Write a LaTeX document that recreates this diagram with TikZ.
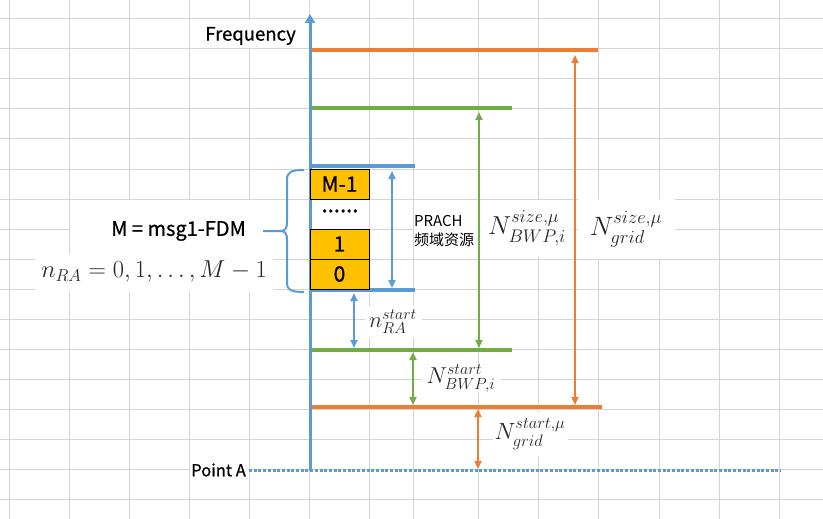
\RequirePackage{fix-cm}
\documentclass[tikz,border=0pt]{standalone}
\usepackage{amsmath}
\usepackage{fontspec}
\usepackage{tikz}
\usetikzlibrary{arrows.meta}

\newfontfamily\notosans{Noto Sans CJK SC}
\newfontfamily\notosansheavy[FakeBold=0.7]{Noto Sans CJK SC}
\newfontfamily\notosansdots[FakeBold=2]{Noto Sans CJK SC}

\definecolor{xlblue}{HTML}{5B9BD5}
\definecolor{xlorange}{HTML}{ED7D31}
\definecolor{xlgreen}{HTML}{70AD47}
\definecolor{xlgold}{HTML}{FFC000}
\definecolor{xlgrid}{HTML}{D4D4D4}

\tikzset{
  gridline/.style={xlgrid, line width=1pt},
  level/.style={line width=3.5pt},
  span/.style={line width=2pt, {Triangle[length=8pt,width=7pt]}-{Triangle[length=8pt,width=7pt]}},
  slot/.style={draw=black, line width=1pt, fill=xlgold, minimum width=59pt, minimum height=30pt,
    inner sep=0pt, font=\notosansheavy\fontsize{21}{21}\selectfont},
  mathlabel/.style={fill=white, inner sep=0pt, text=black!85},
  celltext/.style={font=\notosansheavy\fontsize{19}{19}\selectfont, inner sep=0pt}
}

\begin{document}
\begin{tikzpicture}[x=1pt,y=-1pt]
    \fill[white] (0,0) rectangle (823,519);
    \useasboundingbox (0,0) rectangle (823,519);

    % sheet grid
    \foreach \gx in {9,69,129,189,249,309,369,413,478,538,598,659,719,779}
      \draw[gridline] (\gx,0) -- (\gx,519);
    \foreach \gy in {19,49,...,499}
      \draw[gridline] (0,\gy) -- (823,\gy);
    \fill[white] (191,20) rectangle (308,48);
    \fill[white] (70,200) rectangle (308,258);
    \fill[white] (414,200) rectangle (477,258);
    \fill[white] (190,463) rectangle (248,476);

    % reference line
    \coordinate (pa) at (249,470);
    \coordinate (paend) at (781,470);
    \draw[xlblue, line width=3pt, dash pattern=on 3pt off 1.7pt] (pa) -- (paend);
    \node[celltext, anchor=east, font=\notosansheavy\fontsize{16.5}{16.5}\selectfont] (pointA) at (246,470) {Point A};

    % levels
    \coordinate (ohi) at (311,50);   \coordinate (ohiend) at (598,50);
    \coordinate (ghi) at (311,108);  \coordinate (ghiend) at (512,108);
    \coordinate (bhi) at (311,166);  \coordinate (bhiend) at (415,166);
    \coordinate (blo) at (311,290);  \coordinate (bloend) at (415,290);
    \coordinate (glo) at (311,350);  \coordinate (gloend) at (512,350);
    \coordinate (olo) at (311,407);  \coordinate (oloend) at (602,407);
    \draw[level, xlorange] (ohi) -- (ohiend);
    \draw[level, xlgreen] (ghi) -- (ghiend);
    \draw[level, xlblue] (bhi) -- (bhiend);
    \draw[level, xlblue] (blo) -- (bloend);
    \draw[level, xlgreen] (glo) -- (gloend);
    \draw[level, xlorange] (olo) -- (oloend);

    % axis
    \coordinate (origin) at (310,471);
    \coordinate (top) at (310,14);
    \draw[xlblue, line width=3pt, -{Triangle[length=9pt,width=10pt]}] (origin) -- (top);
    \node[celltext, anchor=east, font=\notosansheavy\fontsize{18.5}{18.5}\selectfont] (freq) at (296,36) {Frequency};

    % PRACH occasions
    \node[slot] (occM) at (339.5,184) {M-1};
    \node[celltext, font=\notosansdots\fontsize{22}{22}\selectfont] (occdots) at (340,211) {......};
    \node[slot] (occ1) at (339.5,244) {1};
    \node[slot] (occ0) at (339.5,274) {0};

    % spans
    \draw[span, xlorange] (575,55) -- (575,405);
    \draw[span, xlgreen] (479,112) -- (479,348);
    \draw[span, xlblue] (392,171) -- (392,288);
    \draw[span, xlblue] (354,293) -- (354,348);
    \draw[span, xlgreen] (413,352) -- (413,405);
    \draw[span, xlorange] (478,409) -- (478,469);

    % brace
    \draw[xlblue, line width=2pt] (304,170) .. controls (291,170) and (287,172) .. (287,180)
      -- (287,222) .. controls (287,229) and (285,231) .. (280,231) -- (263,231);
    \draw[xlblue, line width=2pt] (280,231) .. controls (285,231) and (287,233) .. (287,240)
      -- (287,283) .. controls (287,290) and (291,292) .. (304,292);

    % labels
    \node[celltext, anchor=east, font=\notosansheavy\fontsize{20}{20}\selectfont] (mdef) at (246,231) {M = msg1-FDM};
    \node[mathlabel, minimum width=238pt, minimum height=37pt, font=\fontsize{24.5}{29}\selectfont]
      (nra) at (154,272) {$n_{RA}=0,1,\ldots,M-1$};
    \node[anchor=west, align=left, inner sep=0pt, font=\notosans\fontsize{15}{19}\selectfont]
      (prach) at (414,231) {PRACH\\频域资源};
    \node[mathlabel, minimum width=57pt, minimum height=32pt, font=\fontsize{22.5}{26}\selectfont]
      (nrastart) at (393,322) {$n_{RA}^{start}$};
    \node[mathlabel, minimum width=78pt, minimum height=28pt, font=\fontsize{23}{27}\selectfont]
      (bwpstart) at (461,379) {$N_{BWP,i}^{start}$};
    \node[mathlabel, minimum width=75pt, minimum height=45pt, font=\fontsize{23.5}{27}\selectfont]
      (gridstart) at (530,434) {$N_{grid}^{start,\mu}$};
    \node[mathlabel, minimum width=92pt, minimum height=57pt, font=\fontsize{26}{30}\selectfont]
      (bwpsize) at (527,228) {$N_{BWP,i}^{size,\mu}$};
    \node[mathlabel, minimum width=97pt, minimum height=60pt, font=\fontsize{26.5}{30}\selectfont]
      (gridsize) at (626,229) {$N_{grid}^{size,\mu}$};
\end{tikzpicture}
\end{document}
